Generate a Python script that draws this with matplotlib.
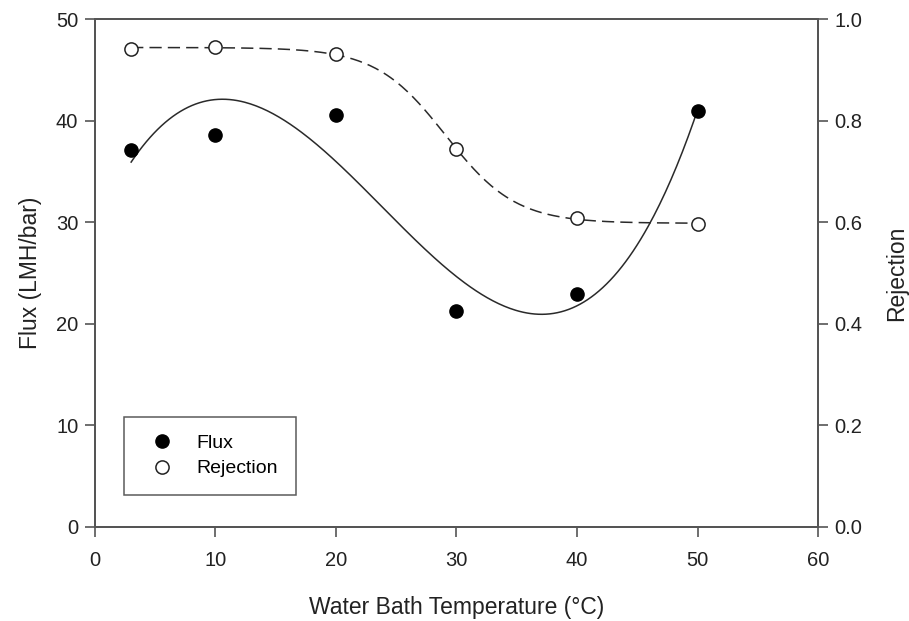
import numpy as np
import matplotlib
matplotlib.use("Agg")
import matplotlib.pyplot as plt
from matplotlib.lines import Line2D

plt.rcParams['font.family'] = ['Liberation Sans', 'DejaVu Sans']

# Data
temperature = [3, 10, 20, 30, 40, 50]
flux = [37.1, 38.6, 40.6, 21.3, 22.9, 40.9]
rejection = [0.941, 0.945, 0.931, 0.744, 0.608, 0.596]

x_ticks = [0, 10, 20, 30, 40, 50, 60]
flux_ticks = [0, 10, 20, 30, 40, 50]
rej_ticks = [0.0, 0.2, 0.4, 0.6, 0.8, 1.0]

t = np.array(temperature, float)
f = np.array(flux, float)
r = np.array(rejection, float)

# Fitted curves (cubic for flux, sigmoid for rejection)
xs = np.linspace(min(temperature), max(temperature), 300)
coef = np.polyfit(t, f, 3)
flux_fit = np.polyval(coef, xs)

best = None
for x0 in np.linspace(20, 40, 201):
    for b in np.linspace(0.5, 10, 191):
        s = 1.0 / (1.0 + np.exp((t - x0) / b))
        A = np.vstack([np.ones_like(t), s]).T
        sol, res, *_ = np.linalg.lstsq(A, r, rcond=None)
        err = np.sum((A @ sol - r) ** 2)
        if best is None or err < best[0]:
            best = (err, x0, b, sol)
_, x0, b, sol = best
rej_fit = sol[0] + sol[1] / (1.0 + np.exp((xs - x0) / b))

fig = plt.figure(figsize=(9.09, 6.21), dpi=100)
ax = fig.add_axes([0.1045, 0.1514, 0.7954, 0.818])
ax2 = ax.twinx()

line_col = '#2a2a2a'
spine_col = '#555555'
text_col = '#222222'

ax.plot(xs, flux_fit, color=line_col, lw=1.1, zorder=2)
ax.plot(t, f, 'o', color='black', ms=9.5, zorder=3)
ax2.plot(xs, rej_fit, color=line_col, lw=1.1, dashes=(8, 4), zorder=2)
ax2.plot(t, r, 'o', mfc='white', mec='#222222', mew=1.1, ms=9.5, zorder=3)

ax.set_xlim(0, 60)
ax.set_ylim(0, 50)
ax2.set_ylim(0, 1.0)
ax.set_xticks(x_ticks)
ax.set_yticks(flux_ticks)
ax2.set_yticks(rej_ticks)
ax2.set_yticklabels([f"{v:.1f}" for v in rej_ticks])

for a in (ax, ax2):
    for sp in a.spines.values():
        sp.set_color(spine_col)
        sp.set_linewidth(1.4)
    a.tick_params(direction='out', length=7, width=1.2, color=spine_col,
                  labelsize=14.5, labelcolor=text_col, pad=5)
ax.tick_params(axis='x', pad=10)

ax.set_xlabel('Water Bath Temperature (°C)', fontsize=16.5, color=text_col, labelpad=19)
ax.set_ylabel('Flux (LMH/bar)', fontsize=16.5, color=text_col, labelpad=10)
ax2.set_ylabel('Rejection', fontsize=16.5, color=text_col, labelpad=16)

handles = [Line2D([], [], ls='none', marker='o', color='black', ms=9.5),
           Line2D([], [], ls='none', marker='o', mfc='white', mec='#222222', mew=1.1, ms=9.5)]
leg = ax.legend(handles, ['Flux', 'Rejection'], loc='lower left',
                bbox_to_anchor=(0.04, 0.063), fontsize=14, frameon=True, fancybox=False,
                edgecolor='#333333', borderpad=0.9, handlelength=2.1, handletextpad=0.75,
                labelspacing=0.4, borderaxespad=0)
leg.get_frame().set_linewidth(1.1)

fig.savefig('out.png', dpi=100)
